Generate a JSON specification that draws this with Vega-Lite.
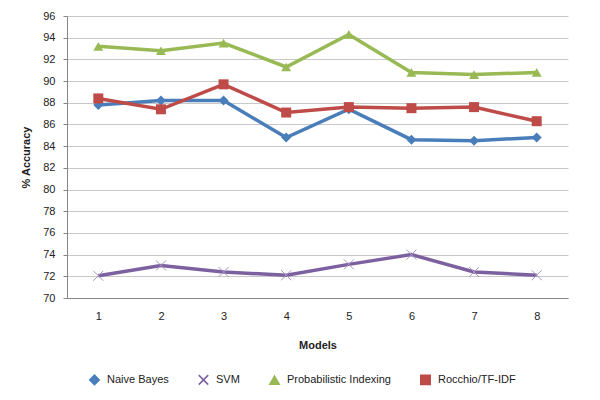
{
  "$schema": "https://vega.github.io/schema/vega-lite/v6.json",
  "width": 501,
  "height": 282,
  "autosize": {"type": "none"},
  "padding": {"left": 67, "top": 16, "right": 32, "bottom": 102},
  "background": "white",
  "config": {
    "font": "Liberation Sans",
    "view": {"stroke": null},
    "axis": {"labelFont": "Liberation Sans", "labelFontSize": 11, "labelColor": "#222", "titleFont": "Liberation Sans", "titleFontSize": 11, "titleFontWeight": "bold", "titleColor": "#222", "domainColor": "#868686", "tickColor": "#868686"},
    "legend": {"labelFont": "Liberation Sans", "labelFontSize": 11, "labelColor": "#222"}
  },
  "data": {
    "values": [
      {"model": 1, "series": "Naive Bayes", "acc": 87.8},
      {"model": 2, "series": "Naive Bayes", "acc": 88.2},
      {"model": 3, "series": "Naive Bayes", "acc": 88.2},
      {"model": 4, "series": "Naive Bayes", "acc": 84.8},
      {"model": 5, "series": "Naive Bayes", "acc": 87.4},
      {"model": 6, "series": "Naive Bayes", "acc": 84.6},
      {"model": 7, "series": "Naive Bayes", "acc": 84.5},
      {"model": 8, "series": "Naive Bayes", "acc": 84.8},
      {"model": 1, "series": "SVM", "acc": 72.05},
      {"model": 2, "series": "SVM", "acc": 73.0},
      {"model": 3, "series": "SVM", "acc": 72.4},
      {"model": 4, "series": "SVM", "acc": 72.1},
      {"model": 5, "series": "SVM", "acc": 73.1},
      {"model": 6, "series": "SVM", "acc": 74.0},
      {"model": 7, "series": "SVM", "acc": 72.4},
      {"model": 8, "series": "SVM", "acc": 72.1},
      {"model": 1, "series": "Probabilistic Indexing", "acc": 93.2},
      {"model": 2, "series": "Probabilistic Indexing", "acc": 92.8},
      {"model": 3, "series": "Probabilistic Indexing", "acc": 93.5},
      {"model": 4, "series": "Probabilistic Indexing", "acc": 91.3},
      {"model": 5, "series": "Probabilistic Indexing", "acc": 94.3},
      {"model": 6, "series": "Probabilistic Indexing", "acc": 90.8},
      {"model": 7, "series": "Probabilistic Indexing", "acc": 90.6},
      {"model": 8, "series": "Probabilistic Indexing", "acc": 90.8},
      {"model": 1, "series": "Rocchio/TF-IDF", "acc": 88.4},
      {"model": 2, "series": "Rocchio/TF-IDF", "acc": 87.4},
      {"model": 3, "series": "Rocchio/TF-IDF", "acc": 89.7},
      {"model": 4, "series": "Rocchio/TF-IDF", "acc": 87.1},
      {"model": 5, "series": "Rocchio/TF-IDF", "acc": 87.6},
      {"model": 6, "series": "Rocchio/TF-IDF", "acc": 87.5},
      {"model": 7, "series": "Rocchio/TF-IDF", "acc": 87.6},
      {"model": 8, "series": "Rocchio/TF-IDF", "acc": 86.3}
    ]
  },
  "encoding": {
    "x": {
      "field": "model", "type": "ordinal", "title": "Models",
      "scale": {"type": "point", "padding": 0.5},
      "axis": {"labelAngle": 0, "ticks": false, "labelPadding": 12, "titlePadding": 18, "grid": false}
    },
    "y": {
      "field": "acc", "type": "quantitative", "title": "% Accuracy",
      "scale": {"domain": [70, 96], "nice": false, "zero": false},
      "axis": {"values": [70,72,74,76,78,80,82,84,86,88,90,92,94,96], "tickSize": 4, "labelPadding": 8, "titlePadding": 11, "gridColor": "#c8c8c8", "gridWidth": 1}
    },
    "color": {
      "field": "series", "type": "nominal",
      "scale": {"domain": ["Naive Bayes", "SVM", "Probabilistic Indexing", "Rocchio/TF-IDF"], "range": ["#4a7ebb", "#7d60a0", "#98b954", "#be4b48"]},
      "legend": {"title": null, "orient": "none", "legendX": 22, "legendY": 358, "direction": "horizontal", "columns": 4, "symbolSize": 90, "columnPadding": 26, "labelOffset": 7}
    }
  },
  "layer": [
    {
      "mark": {"type": "line", "strokeWidth": 3.5}
    },
    {
      "mark": {"type": "point", "filled": true, "opacity": 1, "size": 100, "strokeWidth": 1},
      "encoding": {
        "shape": {
          "field": "series", "type": "nominal",
          "scale": {"domain": ["Naive Bayes", "SVM", "Probabilistic Indexing", "Rocchio/TF-IDF"], "range": ["diamond", "M-1,-1L1,1M-1,1L1,-1", "triangle-up", "square"]}
        },
        "stroke": {
          "condition": {"test": "datum.series === 'SVM'", "value": "#a497bf"},
          "value": "transparent"
        }
      }
    }
  ]
}
